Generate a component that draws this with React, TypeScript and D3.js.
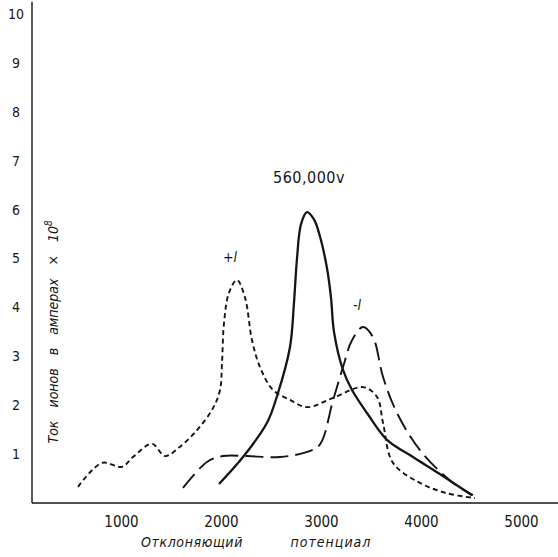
import React, { useRef, useEffect } from "react";
import { select, scaleLinear, line, curveCatmullRom, axisBottom, axisLeft } from "d3";

// deflecting potential (V) and ion current (A x 10^8)
const mainPotential = [1980, 2220, 2460, 2570, 2690, 2730, 2760, 2800, 2860, 2930, 2990, 3060, 3100, 3130, 3220, 3310, 3460, 3660, 3920, 4160, 4510];
const mainCurrent = [0.39, 0.94, 1.64, 2.25, 3.19, 4.1, 5.0, 5.7, 5.95, 5.8, 5.45, 4.8, 4.2, 3.5, 2.72, 2.31, 1.84, 1.29, 0.94, 0.63, 0.16];

const plusPotential = [570, 810, 1010, 1120, 1310, 1440, 1590, 1760, 1920, 1990, 2010, 2030, 2080, 2160, 2240, 2310, 2390, 2520, 2690, 2860, 3120, 3420, 3560, 3620, 3720, 3990, 4260, 4540];
const plusCurrent = [0.33, 0.82, 0.74, 0.94, 1.21, 0.96, 1.15, 1.49, 1.94, 2.31, 2.86, 3.68, 4.3, 4.56, 4.2, 3.33, 2.78, 2.31, 2.11, 1.96, 2.15, 2.37, 2.17, 1.64, 0.82, 0.41, 0.2, 0.1];

const minusPotential = [1620, 1860, 2020, 2260, 2590, 2870, 2990, 3120, 3220, 3310, 3420, 3520, 3620, 3760, 3990, 4320, 4520];
const minusCurrent = [0.31, 0.84, 0.96, 0.96, 0.94, 1.05, 1.2, 2.1, 2.78, 3.33, 3.6, 3.39, 2.58, 1.84, 1.08, 0.41, 0.16];

const xTicks = [1000, 2000, 3000, 4000, 5000];
const yTicks = [1, 2, 3, 4, 5, 6, 7, 8, 9, 10];

export default function App() {
    const svgRef = useRef(null);
    const width = 558;
    const height = 557;

    useEffect(() => {
        const svg = select(svgRef.current);
        svg.selectAll("*").remove();

        const x = scaleLinear().domain([0, 5000]).range([21, 521]);
        const y = scaleLinear().domain([0, 10]).range([503, 14]);
        const ink = "#151515";
        const font = "'DejaVu Sans Condensed', 'DejaVu Sans', sans-serif";

        // axes lines
        svg.append("line")
            .attr("x1", x(110)).attr("x2", x(5370))
            .attr("y1", y(0)).attr("y2", y(0))
            .attr("stroke", ink).attr("stroke-width", 1.6);
        svg.append("line")
            .attr("x1", x(110)).attr("x2", x(110))
            .attr("y1", y(0)).attr("y2", y(10.25))
            .attr("stroke", ink).attr("stroke-width", 1.4);

        const gx = svg.append("g")
            .attr("transform", `translate(0,${y(0)})`)
            .call(axisBottom(x).tickValues(xTicks).tickSize(0).tickPadding(13).tickFormat((d) => String(d)));
        gx.select(".domain").remove();
        gx.selectAll("text").attr("font-family", font).attr("font-size", 15).attr("fill", ink);

        const gy = svg.append("g")
            .attr("transform", `translate(${x(110)},0)`)
            .call(axisLeft(y).tickValues(yTicks).tickSize(0).tickFormat((d) => String(d)));
        gy.select(".domain").remove();
        gy.selectAll("text")
            .attr("x", -16)
            .attr("text-anchor", "middle")
            .attr("font-family", font)
            .attr("font-size", 14)
            .attr("fill", ink);

        const curve = (xs, ys) =>
            line()
                .x((d) => x(xs[d]))
                .y((d) => y(ys[d]))
                .curve(curveCatmullRom.alpha(0.5))(xs.map((_, i) => i));

        svg.append("path")
            .attr("d", curve(plusPotential, plusCurrent))
            .attr("fill", "none").attr("stroke", ink)
            .attr("stroke-width", 1.9).attr("stroke-dasharray", "5,3.5");

        svg.append("path")
            .attr("d", curve(minusPotential, minusCurrent))
            .attr("fill", "none").attr("stroke", ink)
            .attr("stroke-width", 1.9).attr("stroke-dasharray", "18,7");

        svg.append("path")
            .attr("d", curve(mainPotential, mainCurrent))
            .attr("fill", "none").attr("stroke", ink)
            .attr("stroke-width", 2.3);

        // annotations
        svg.append("text")
            .attr("x", x(2880)).attr("y", y(6.55))
            .attr("text-anchor", "middle")
            .attr("font-family", font).attr("font-size", 16).attr("letter-spacing", 0.5).attr("fill", ink)
            .text("560,000v");
        svg.append("text")
            .attr("x", x(2090)).attr("y", y(4.93))
            .attr("text-anchor", "middle")
            .attr("font-family", font).attr("font-size", 14).attr("font-style", "italic").attr("fill", ink)
            .text("+l");
        svg.append("text")
            .attr("x", x(3360)).attr("y", y(3.95))
            .attr("text-anchor", "middle")
            .attr("font-family", font).attr("font-size", 14).attr("font-style", "italic").attr("fill", ink)
            .text("-l");

        // axis titles
        const yt = svg.append("text")
            .attr("transform", `translate(58,${y(3.5)}) rotate(-90)`)
            .attr("text-anchor", "middle")
            .attr("font-family", font).attr("font-size", 14).attr("font-style", "italic")
            .attr("word-spacing", 9).attr("fill", ink);
        yt.append("tspan").text("Ток ионов в амперах × 10");
        yt.append("tspan").attr("dy", -6).attr("font-size", 10).text("8");

        svg.append("text")
            .attr("x", 192).attr("y", 547)
            .attr("text-anchor", "middle")
            .attr("font-family", font).attr("font-size", 14).attr("font-style", "italic")
            .attr("letter-spacing", 0.6).attr("fill", ink)
            .text("Отклоняющий");
        svg.append("text")
            .attr("x", 331).attr("y", 547)
            .attr("text-anchor", "middle")
            .attr("font-family", font).attr("font-size", 14).attr("font-style", "italic")
            .attr("letter-spacing", 1).attr("fill", ink)
            .text("потенциал");
    }, []);

    return (
        <svg
            ref={svgRef}
            width={width}
            height={height}
            style={{ position: "absolute", left: 0, top: 0, background: "#fff" }}
        />
    );
}
